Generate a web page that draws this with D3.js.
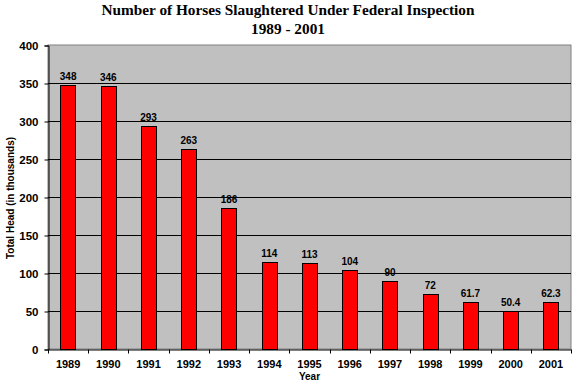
<!DOCTYPE html>
<html><head><meta charset="utf-8">
<script src="https://cdn.jsdelivr.net/npm/d3@7"></script>
<style>body{margin:0;background:#fff}</style>
</head><body>
<svg id="c" width="578" height="384"></svg>
<script>
const years = ["1989","1990","1991","1992","1993","1994","1995","1996","1997","1998","1999","2000","2001"];
const heads = [348,346,293,263,186,114,113,104,90,72,61.7,50.4,62.3];
const yTicks = [0,50,100,150,200,250,300,350,400];
const titleLines = ["Number of Horses Slaughtered Under Federal Inspection","1989 - 2001"];

const svg = d3.select("#c");
const m = {l:48, r:571, t:45, b:349};
const x = d3.scaleBand().domain(years).range([m.l, m.r]).paddingInner(0.62).paddingOuter(0.31);
const y = d3.scaleLinear().domain([0,400]).range([m.b, m.t]);

svg.append("rect").attr("x",m.l).attr("y",m.t).attr("width",m.r-m.l).attr("height",m.b-m.t)
  .attr("fill","#c0c0c0").attr("stroke","#808080").attr("stroke-width",1);

svg.append("g").selectAll("line").data(yTicks.filter(d=>d>0 && d<400)).join("line")
  .attr("x1",m.l).attr("x2",m.r).attr("y1",d=>Math.round(y(d))+0.5).attr("y2",d=>Math.round(y(d))+0.5)
  .attr("stroke","#000").attr("stroke-width",1);

svg.append("g").selectAll("rect").data(years).join("rect")
  .attr("x",d=>Math.round(x(d))+0.5).attr("y",(d,i)=>Math.round(y(heads[i]))+0.5)
  .attr("width",Math.round(x.bandwidth())).attr("height",(d,i)=>Math.round(y(0))-Math.round(y(heads[i])))
  .attr("fill","#ff0000").attr("stroke","#000").attr("stroke-width",1);

svg.append("g").selectAll("text").data(years).join("text")
  .attr("x",d=>x(d)+x.bandwidth()/2).attr("y",(d,i)=>y(heads[i])-5)
  .attr("text-anchor","middle").attr("font-family","Liberation Sans, Arial, sans-serif")
  .attr("font-weight","bold").attr("font-size","10px").text((d,i)=>heads[i]);

// y axis
const ya = d3.axisLeft(y).tickValues(yTicks).tickSize(4).tickPadding(6);
const gy = svg.append("g").attr("transform",`translate(${m.l+0.5},0.5)`).call(ya);
gy.selectAll("text").attr("font-family","Liberation Sans, Arial, sans-serif").attr("font-weight","bold").attr("font-size","11.5px").attr("fill","#000").attr("dy","0.35em");
gy.select(".domain").attr("stroke","#000");

// x axis
const xa = d3.axisBottom(x).tickSize(0).tickPadding(11);
const gx = svg.append("g").attr("transform",`translate(0,${m.b+0.5})`).call(xa);
gx.selectAll("text").attr("font-family","Liberation Sans, Arial, sans-serif").attr("font-weight","bold").attr("font-size","11px").attr("fill","#000");
gx.select(".domain").attr("stroke","#000");
const bounds = d3.range(years.length+1).map(i=>m.l + i*(m.r-m.l)/years.length);
gx.selectAll("line.tb").data(bounds).join("line").attr("class","tb")
  .attr("x1",d=>Math.round(d)+0.5).attr("x2",d=>Math.round(d)+0.5).attr("y1",0).attr("y2",4).attr("stroke","#000");

svg.append("text").attr("x",(m.l+m.r)/2).attr("y",380).attr("text-anchor","middle")
  .attr("font-family","Liberation Sans, Arial, sans-serif").attr("font-weight","bold").attr("font-size","10px").text("Year");
svg.append("text").attr("transform","translate(14,198) rotate(-90)").attr("text-anchor","middle")
  .attr("font-family","Liberation Sans, Arial, sans-serif").attr("font-weight","bold").attr("font-size","10px").text("Total Head (in thousands)");

svg.selectAll("text.title").data(titleLines).join("text").attr("class","title")
  .attr("x",288).attr("y",(d,i)=>15+i*19).attr("text-anchor","middle")
  .attr("font-family","Liberation Serif, Times New Roman, serif").attr("font-weight","bold").attr("font-size","15.3px").text(d=>d);
</script>
</body></html>
